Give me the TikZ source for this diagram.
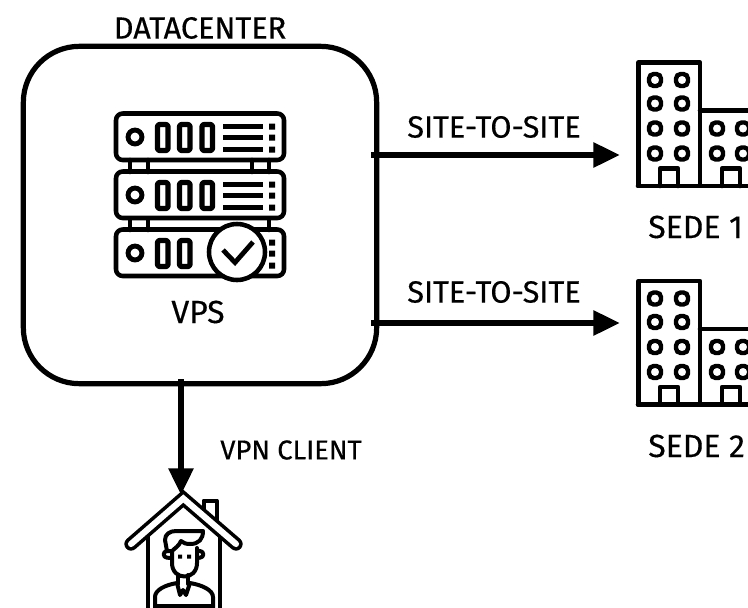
\documentclass[tikz,border=0pt]{standalone}
\usepackage{fontspec}
\setmainfont{Fira Sans}
\usetikzlibrary{arrows.meta}
\tikzset{
  x=0.75pt,y=-0.75pt,
  ln/.style={draw=black,line width=3.4pt,line join=round,line cap=round},
  slotln/.style={draw=black,line width=3.9pt,line join=round,rounded corners=1.5pt},
  thinln/.style={draw=black,line width=3pt,line join=round,line cap=round},
  conn/.style={line width=4.4pt,draw=black,-{Triangle[length=20pt,width=18pt]}},
  lab/.style={inner sep=0pt,text=black},
  fa/.style={lab,font=\fontsize{23}{26}\selectfont\addfontfeature{FakeBold=0.4}},
  fb/.style={lab,font=\fontsize{20.5}{24}\selectfont\addfontfeature{FakeBold=0.4}},
  fc/.style={lab,font=\fontsize{24}{28}\selectfont\addfontfeature{FakeBold=0.4}},
  win/.style={draw=black,line width=3.3pt,rounded corners=3.5pt},
}
\newcommand{\rackunit}[2]{% y-top, slots
  \draw[ln,rounded corners=5pt] (116,#1) rectangle (284,#1+46.5);
  \draw[draw=black,line width=3.7pt] (135,#1+23.5) circle[radius=5.2pt];
  \draw[slotln] (157.5,#1+11) rectangle (168,#1+37);
  \draw[slotln] (179.5,#1+11) rectangle (190,#1+37);
  \ifnum#2>2\draw[slotln] (202,#1+11) rectangle (212.5,#1+37);
  \draw[draw=black,line width=3.9pt] (223,#1+13)--(263,#1+13) (223,#1+24)--(263,#1+24) (223,#1+36)--(263,#1+36);\fi
  \fill (269,#1+10) rectangle (275,#1+16) (269,#1+21) rectangle (275,#1+27) (269,#1+33) rectangle (275,#1+39);
}
\newcommand{\bldg}[1]{%
  \begin{scope}[yshift=-#1*0.75pt]
  \draw[ln] (638.5,62.5) rectangle (700,186);
  \draw[ln] (700,110.5)--(760,110.5) (638,186)--(760,186);
  \foreach \y in {80,103.5,128.5,153.5}{
    \draw[win] (649,\y-6) rectangle (661,\y+6);
    \draw[win] (676,\y-6) rectangle (688,\y+6);}
  \foreach \y in {128.5,153.5}{
    \draw[win] (711,\y-6) rectangle (723,\y+6);
    \draw[win] (737,\y-6) rectangle (749,\y+6);}
  \draw[ln] (660,186)--(660,168.5)--(678,168.5)--(678,186);
  \draw[ln] (722,186)--(722,168.5)--(740,168.5)--(740,186);
  \end{scope}
}
\begin{document}
\begin{tikzpicture}
\useasboundingbox (0,0) rectangle (748,607);
\clip (0,0) rectangle (748,607);
\fill[white] (0,0) rectangle (748,607);
% main box
\node[draw=black,line width=3.9pt,rounded corners=42pt,minimum width=265pt,minimum height=253pt,inner sep=0pt] (dc) at (200,215) {};
\node[fa] (dctitle) at (200,28) {DATACENTER};
% racks
\draw[ln] (130,160)--(130,172) (148,160)--(148,172) (252,160)--(252,172) (269,160)--(269,172);
\draw[ln] (130,219)--(130,230) (148,219)--(148,230) (269,219)--(269,230);
\rackunit{113.5}{3}
\rackunit{171.5}{3}
\rackunit{229.5}{2}
\draw[ln,fill=white] (237,252) circle[radius=21pt];
\draw[draw=black,line width=3.6pt,line join=miter] (223,250)--(235,262.5)--(253,242);
\node[fc] (vps) at (198,312) {VPS};
% buildings
\bldg{0}
\bldg{218.5}
\node[fc,anchor=west] (s1) at (648,227) {SEDE 1};
\node[fc,anchor=west] (s2) at (648,446) {SEDE 2};
\coordinate (t1) at (620,155);
\coordinate (t2) at (620,323);
\coordinate (f1) at (371,155);
\coordinate (f2) at (371,323);
\coordinate (f3) at (181,379);
\coordinate (t3) at (181,495);
\draw[conn] (f1)--(t1);
\draw[conn] (f2)--(t2);
\node[fa] (e1) at (494,127) {SITE-TO-SITE};
\node[fa] (e2) at (494,292) {SITE-TO-SITE};
% house
\draw[thinln] (203.5,517)--(203.5,500.5)--(216.5,500.5)--(216.5,526);
\draw[thinln] (147.5,530)--(147.5,610) (219.5,530)--(219.5,610);
\draw[draw=black,line width=10pt,line cap=round,line join=miter] (131,544)--(183.3,498.5)--(236,544);
\draw[draw=white,line width=4.6pt,line cap=round,line join=miter] (131,544)--(183.3,498.5)--(236,544);
% person
\draw[thinln] (172,548)--(172,563) .. controls (172,581) and (197,581) .. (197,563)--(197,548);
\draw[thinln] (167,551) arc[start angle=90,end angle=270,radius=2.5pt]--(172,558);
\draw[thinln] (200,551) arc[start angle=90,end angle=-90,radius=2.5pt]--(197,558);
\draw[thinln,fill=white] (167,551)--(165,540) .. controls (165,534) and (170,531) .. (176,531)--(203,531) .. controls (203,539) and (199,544) .. (190,544) .. controls (186,544) and (183,543) .. (181,541) .. controls (179,546) and (175,548) .. (172,551)--cycle;
\fill (178,554.5) rectangle (182,558.5) (187,554.5) rectangle (191,558.5);
\draw[thinln] (178,575)--(178,584) (188,575)--(188,584);
\draw[thinln] (155,610)--(155,597) .. controls (155,590) and (165,585) .. (177,583)--(180,595)--(183,590)--(186,595)--(190,583) .. controls (202,585) and (213,590) .. (213,597)--(213,610);
\draw[thinln] (155,606)--(213,606);
% arrow down
\draw[conn] (f3)--(t3);
\node[fb] (e3) at (291,450) {VPN CLIENT};
\end{tikzpicture}
\end{document}
